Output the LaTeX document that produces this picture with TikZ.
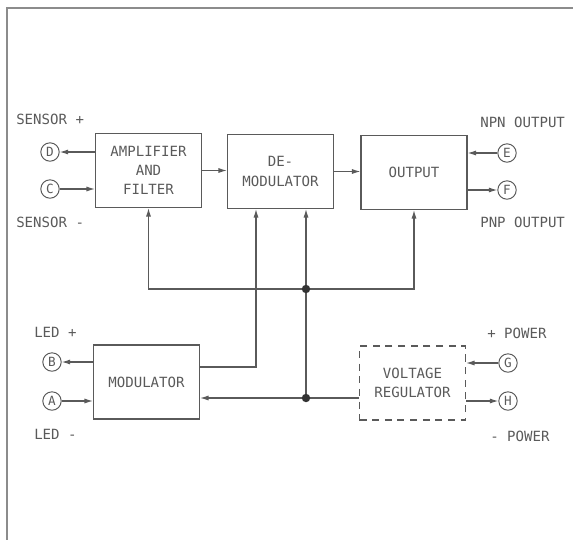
\documentclass[tikz,border=0pt]{standalone}
\usepackage{fontspec}
\newfontfamily\cadfont{DejaVu Sans Mono}
\usetikzlibrary{arrows.meta}
\definecolor{ink}{HTML}{5A5A5A}
\definecolor{frm}{HTML}{8C8C8C}

\begin{document}
\begin{tikzpicture}[x=0.025cm,y=-0.025cm,
  every node/.style={text=ink,font=\cadfont\fontsize{10}{13.5}\selectfont},
  blk/.style={draw=ink,line width=0.8pt,minimum width=2.65cm,minimum height=1.85cm,align=center,inner sep=0pt},
  pin/.style={draw=ink,circle,line width=0.7pt,minimum size=0.46cm,inner sep=0pt,font=\cadfont\fontsize{9}{9}\selectfont},
  lbl/.style={anchor=west,inner sep=0pt},
  >={Latex[length=6pt,width=3.6pt]}]
\useasboundingbox (0,0) rectangle (573,540);
\draw[frm,line width=1.2pt] (7,540) -- (7,8) -- (573,8);
\path
(148.5,170.5) node[blk] (amp) {AMPLIFIER\\AND\\FILTER}
(280.5,171.5) node[blk,font=\cadfont\fontsize{10}{14.5}\selectfont] (demod) {DE-\\MODULATOR}
(414,172.5) node[blk] (out) {OUTPUT}
(146.5,382) node[blk] (mod) {MODULATOR}
(412.5,383) node[blk,dashed,dash pattern=on 5pt off 4pt] (vreg) {VOLTAGE\\REGULATOR}
(50,152) node[pin] (pD) {D}
(50,189) node[pin] (pC) {C}
(507,153) node[pin] (pE) {E}
(507,190) node[pin] (pF) {F}
(52,362) node[pin] (pB) {B}
(52,401) node[pin] (pA) {A}
(508,363) node[pin] (pG) {G}
(508,401) node[pin] (pH) {H}
(16,119) node[lbl] (tsp) {SENSOR +}
(16,222) node[lbl] (tsm) {SENSOR -}
(480,122) node[lbl] (tnpn) {NPN OUTPUT}
(480,222) node[lbl] (tpnp) {PNP OUTPUT}
(34,332) node[lbl] (tlp) {LED +}
(34,434) node[lbl] (tlm) {LED -}
(487,333) node[lbl] (tpp) {+ POWER}
(490,436) node[lbl] (tpm) {- POWER};
\coordinate (j1) at (306,289);
\coordinate (j2) at (306,398);
\begin{scope}[draw=ink,line width=0.8pt]
% signal path
\draw[->] (amp.east) -- (amp.east -| demod.west);
\draw[->] (demod.east) -- (demod.east -| out.west);
% terminals
\draw[->] (amp.west |- pD) -- (pD);
\draw[->] (pC) -- (amp.west |- pC);
\draw[->] (pE) -- (out.east |- pE);
\draw[->] (out.east |- pF) -- (pF);
\draw[->] (mod.west |- pB) -- (pB);
\draw[->] (pA) -- (mod.west |- pA);
\draw[->] (pG) -- (vreg.east |- pG);
\draw[->] (vreg.east |- pH) -- (pH);
% supply bus
\draw[->] (j1) -| (amp.south);
\draw[->] (j1) -| (out.south);
\draw[->] (j2) -- (demod.south -| j2);
\draw[->] (vreg.west |- j2) -- (mod.east |- j2);
\draw[->] (mod.east |- 0,367) -| (demod.south -| 256,0);
\end{scope}
\fill[black!80] (j1) circle (3pt) (j2) circle (3pt);
\end{tikzpicture}
\end{document}
